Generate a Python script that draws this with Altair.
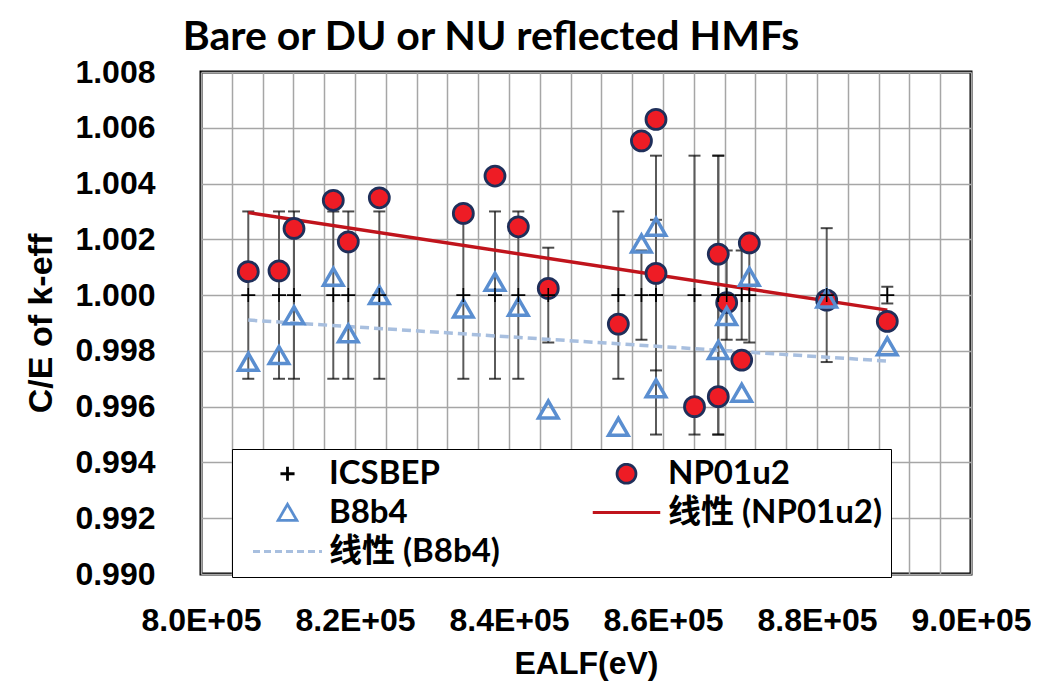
import altair as alt
import pandas as pd

# ---------------- data ----------------
ealf_icsbep = [806140, 810130, 812080, 817180, 819130, 823160, 834070, 838180,
               841210, 845100, 854200, 857200, 859090, 859090, 864090, 867180,
               867180, 868270, 870220, 871210, 881260, 889130]
ce_icsbep = [1.000, 1.000, 1.000, 1.000, 1.000, 1.000, 1.000, 1.000,
             1.000, 1.000, 1.000, 1.000, 1.000, 1.000, 1.000, 1.000,
             1.000, 1.000, 1.000, 1.000, 1.000, 1.000]
err_icsbep = [0.0030, 0.0030, 0.0030, 0.0030, 0.0030, 0.0030, 0.0030, 0.0030,
              0.0030, 0.0017, 0.0030, 0.0016, 0.0050, 0.0027, 0.0050, 0.0050,
              0.0050, 0.0016, 0.0016, 0.0017, 0.0024, 0.0003]

ealf_np01u2 = [806140, 810130, 812080, 817180, 819130, 823160, 834070, 838180,
               841210, 845100, 854200, 857200, 859090, 859090, 864090, 867180,
               867180, 868270, 870220, 871210, 881260, 889130]
ce_np01u2 = [1.00084, 1.00087, 1.00239, 1.00340, 1.00191, 1.00349, 1.00293, 1.00427,
             1.00245, 1.00024, 0.99896, 1.00553, 1.00630, 1.00078, 0.99600, 1.00147,
             0.99636, 0.99973, 0.99767, 1.00187, 0.99982, 0.99906]

ealf_b8b4 = [806140, 810130, 812080, 817180, 819130, 823160, 834070, 838180,
             841210, 845100, 854200, 857200, 859090, 859090, 864090, 867180,
             867180, 868270, 870220, 871210, 881260, 889130]
ce_b8b4 = [0.99761, 0.99785, 0.99928, 1.00066, 0.99863, 1.00000, 0.99952, 1.00048,
           0.99958, 0.99590, 0.99528, 1.00185, 1.00245, 0.99666, 0.99300, 0.99803,
           0.99280, 0.99925, 0.99650, 1.00066, 0.99988, 0.99816]

series_names = ["ICSBEP", "NP01u2", "B8b4", "线性 (NP01u2)", "线性 (B8b4)"]

x_ticks = list(range(800000, 900001, 4000))
y_ticks = [0.990, 0.992, 0.994, 0.996, 0.998, 1.000, 1.002, 1.004, 1.006, 1.008]

# ---------------- tables ----------------
ice = pd.DataFrame({"ealf": ealf_icsbep, "ce": ce_icsbep, "err": err_icsbep})
ice["lo"] = ice["ce"] - ice["err"]
ice["hi"] = ice["ce"] + ice["err"]
np_df = pd.DataFrame({"ealf": ealf_np01u2, "ce": ce_np01u2})
b8_df = pd.DataFrame({"ealf": ealf_b8b4, "ce": ce_b8b4})
leg_df = pd.DataFrame({"name": series_names})

GRID = "#a6a6a6"
AX_FONT = "Liberation Sans"

x_axis = alt.Axis(values=x_ticks, grid=True, gridColor=GRID, gridWidth=1.5,
                  ticks=False, domain=False, labelFlush=False, labelOverlap=False,
                  labelExpr="datum.value % 20000 === 0 ? format(datum.value / 100000, '.1f') + 'E+05' : ''",
                  labelFont=AX_FONT, labelFontSize=32, labelFontWeight="bold",
                  labelColor="black", labelPadding=31,
                  title="EALF(eV)", titleFont=AX_FONT, titleFontSize=32,
                  titleFontWeight="bold", titleColor="black", titlePadding=12)
y_axis = alt.Axis(values=y_ticks, format=".3f", grid=True, gridColor=GRID, gridWidth=1.5,
                  ticks=False, domain=False, labelOverlap=False, labelFlush=False,
                  labelFont=AX_FONT, labelFontSize=32, labelFontWeight="bold",
                  labelColor="black", labelPadding=46,
                  title="C/E of k-eff", titleFont=AX_FONT, titleFontSize=34,
                  titleFontWeight="bold", titleColor="black", titlePadding=16)

xs = alt.Scale(domain=[800000, 900000], nice=False, zero=False)
ys = alt.Scale(domain=[0.990, 1.008], nice=False, zero=False)


def X():
    return alt.X("ealf:Q", scale=xs, axis=x_axis)


def Y(field):
    return alt.Y(f"{field}:Q", scale=ys, axis=y_axis)


bars = alt.Chart(ice).mark_rule(color="#5a5a5a", strokeWidth=2).encode(
    x=X(), y=Y("lo"), y2="hi")
cap_lo = alt.Chart(ice).mark_tick(orient="horizontal", size=12, thickness=2, color="black").encode(
    x=X(), y=Y("lo"))
cap_hi = alt.Chart(ice).mark_tick(orient="horizontal", size=12, thickness=2, color="black").encode(
    x=X(), y=Y("hi"))
crosses = alt.Chart(ice).mark_point(shape="M-1,0H1M0,-1V1", size=196, filled=False,
                                    color="black", strokeWidth=1.6, opacity=1).encode(
    x=X(), y=Y("ce"))

np_line = alt.Chart(np_df).transform_regression("ealf", "ce").mark_line(
    color="#c0141c", strokeWidth=3.5).encode(x=X(), y=Y("ce"))
b8_line = alt.Chart(b8_df).transform_regression("ealf", "ce").mark_line(
    color="#a8bfdf", strokeWidth=3.5, strokeDash=[9, 5]).encode(x=X(), y=Y("ce"))

np_pts = alt.Chart(np_df).mark_point(shape="circle", size=400, filled=True,
                                     fill="#ee1c25", stroke="#1f2f5a", strokeWidth=2.8,
                                     opacity=1).encode(x=X(), y=Y("ce"))
b8_pts = alt.Chart(b8_df).mark_point(shape="triangle-up", size=380, filled=False,
                                     stroke="#5a8ed0", strokeWidth=3.5, opacity=1).encode(
    x=X(), y=Y("ce"))

legend = alt.Legend(title=None, orient="none", legendX=31, legendY=377, columns=2,
                    direction="horizontal",
                    columnPadding=79, rowPadding=5, padding=8,
                    fillColor="white", strokeColor="black",
                    symbolSize=900, symbolStrokeWidth=2.8, symbolOffset=31,
                    labelOffset=25, labelFont="Lato, Noto Sans CJK SC", labelFontSize=33,
                    labelFontWeight="bold", labelColor="black", labelLimit=500)

shape_range = ["M-0.47,0H0.47M0,-0.47V0.47",
               "M-0.63,0A0.63,0.63,0,1,1,0.63,0A0.63,0.63,0,1,1,-0.63,0Z",
               "M0,-0.55L0.62,0.52L-0.62,0.52Z",
               "M-2.25,0H2.25",
               "M-2.3,0H2.3"]

leg_layer = alt.Chart(leg_df).mark_point(filled=False, opacity=1).encode(
    shape=alt.Shape("name:N", scale=alt.Scale(domain=series_names, range=shape_range), legend=legend),
    stroke=alt.Stroke("name:N", scale=alt.Scale(domain=series_names,
                      range=["black", "#1f2f5a", "#5a8ed0", "#c0141c", "#a8bfdf"]), legend=legend),
    fill=alt.Fill("name:N", scale=alt.Scale(domain=series_names,
                  range=["transparent", "#ee1c25", "transparent", "transparent", "transparent"]), legend=legend),
    strokeDash=alt.StrokeDash("name:N", scale=alt.Scale(domain=series_names,
                              range=[[1, 0], [1, 0], [1, 0], [1, 0], [7, 4]]), legend=legend),
).transform_filter("false")

chart = alt.layer(bars, cap_lo, cap_hi, np_line, b8_line, np_pts, b8_pts, crosses, leg_layer).properties(
    width=770, height=502,
    title=alt.TitleParams("Bare or DU or NU reflected HMFs", font="Lato", fontSize=41,
                          fontWeight="bold", color="black", anchor="middle", frame="bounds",
                          baseline="alphabetic", offset=-35, dx=-37),
    autosize=alt.AutoSizeParams(type="none"),
    padding={"left": 193, "top": 64, "right": 60, "bottom": 110},
    background="white",
).configure_view(stroke="black", strokeWidth=3)

chart.save("out.html", embed_options={"renderer": "svg", "actions": False})
